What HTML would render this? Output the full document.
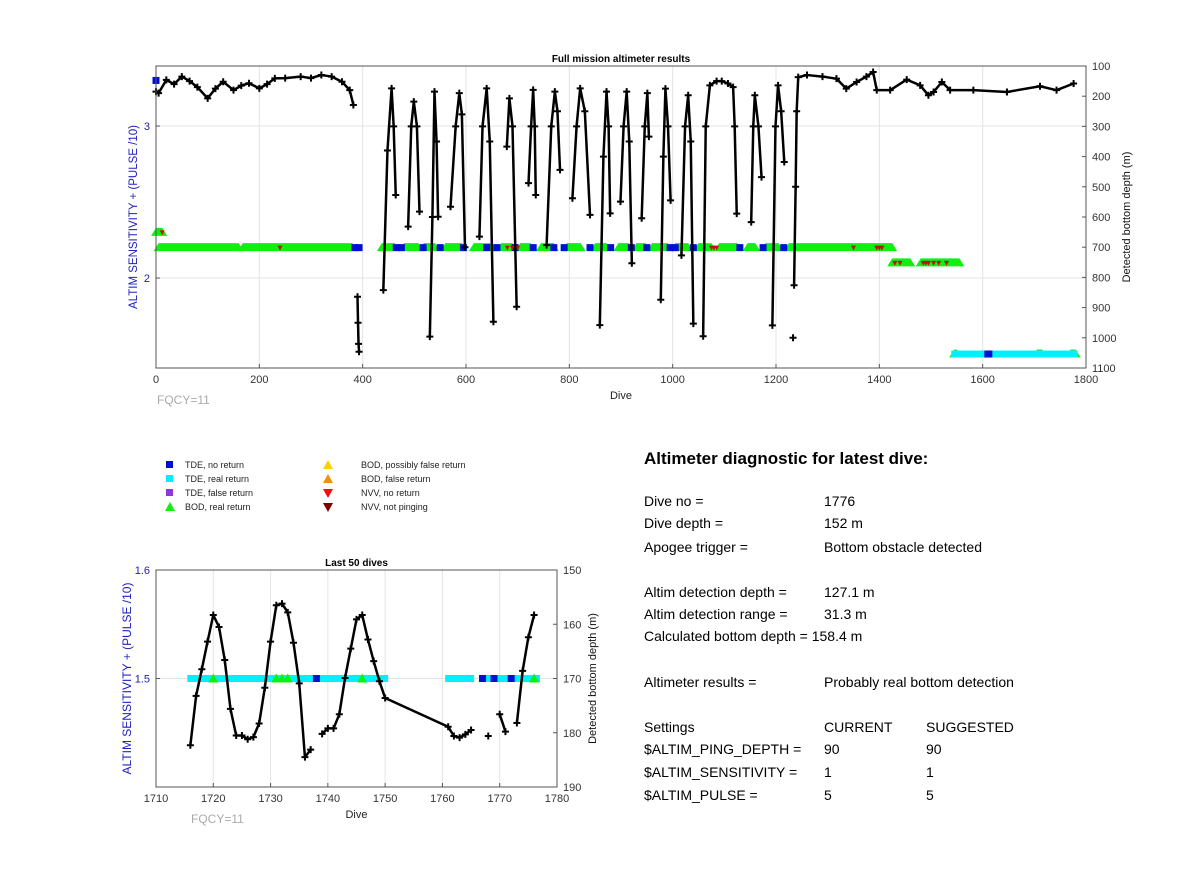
<!DOCTYPE html>
<html><head><meta charset="utf-8"><style>
body{margin:0;background:#fff;}
svg{display:block;font-family:"Liberation Sans",Arial,sans-serif;}
</style></head><body>
<svg id="fig" width="1200" height="885" viewBox="0 0 1200 885" xmlns="http://www.w3.org/2000/svg">
<rect width="1200" height="885" fill="#fff"/>
<g id="top"></g>
<g id="bot"></g>
<g font-size="9" fill="#222">
 <rect x="166" y="461" width="7" height="7" fill="#0010d0"/>
 <text x="185" y="468">TDE, no return</text>
 <rect x="166" y="475" width="7" height="7" fill="#00f0ff"/>
 <text x="185" y="482">TDE, real return</text>
 <rect x="166" y="489" width="7" height="7" fill="#8a3ad8"/>
 <text x="185" y="496">TDE, false return</text>
 <polygon points="165,511 175,511 170,502" fill="#10f010"/>
 <text x="185" y="510">BOD, real return</text>
 <polygon points="323,469 333,469 328,460" fill="#ffd000"/>
 <text x="361" y="468">BOD, possibly false return</text>
 <polygon points="323,483 333,483 328,474" fill="#f09010"/>
 <text x="361" y="482">BOD, false return</text>
 <polygon points="323,489 333,489 328,498" fill="#f01010"/>
 <text x="361" y="496">NVV, no return</text>
 <polygon points="323,503 333,503 328,512" fill="#800000"/>
 <text x="361" y="510">NVV, not pinging</text>
</g>
<g font-size="14" fill="#000">
 <text x="644" y="464" font-size="17" font-weight="bold">Altimeter diagnostic for latest dive:</text>
 <text x="644" y="506">Dive no =</text><text x="824" y="506">1776</text>
 <text x="644" y="528">Dive depth =</text><text x="824" y="528">152 m</text>
 <text x="644" y="552">Apogee trigger =</text><text x="824" y="552">Bottom obstacle detected</text>
 <text x="644" y="597">Altim detection depth =</text><text x="824" y="597">127.1 m</text>
 <text x="644" y="619">Altim detection range =</text><text x="824" y="619">31.3 m</text>
 <text x="644" y="641">Calculated bottom depth = 158.4 m</text>
 <text x="644" y="687">Altimeter results =</text><text x="824" y="687">Probably real bottom detection</text>
 <text x="644" y="732">Settings</text><text x="824" y="732">CURRENT</text><text x="926" y="732">SUGGESTED</text>
 <text x="644" y="754">$ALTIM_PING_DEPTH =</text><text x="824" y="754">90</text><text x="926" y="754">90</text>
 <text x="644" y="777">$ALTIM_SENSITIVITY =</text><text x="824" y="777">1</text><text x="926" y="777">1</text>
 <text x="644" y="800">$ALTIM_PULSE =</text><text x="824" y="800">5</text><text x="926" y="800">5</text>
</g>
</svg>
<script>
// ===== Top chart data =====
const topXTicks=[0,200,400,600,800,1000,1200,1400,1600,1800];
const topLeftTicks=[2,3];
const topRightTicks=[100,200,300,400,500,600,700,800,900,1000,1100];
const topDives=[0,5,20,35,50,65,80,100,115,130,150,165,180,200,215,230,250,280,300,320,340,360,375,382,null,390,391,392,393,null,
440,448,456,460,464,null,488,494,499,505,510,null,530,535,539,543,546,null,570,580,587,592,598,null,626,632,640,646,653,null,
679,684,690,698,null,721,726,730,733,735,null,756,765,772,777,782,null,806,814,821,830,840,null,859,866,872,876,879,null,899,905,911,916,921,null,940,946,951,954,null,
977,982,986,991,996,null,1017,1024,1030,1035,1040,null,1059,1064,1072,1085,1095,1107,1117,1120,1124,null,1152,1156,1159,1166,1172,null,1193,1199,1204,1210,1216,null,1233,null,
1235,1238,1240,1243,1260,1290,1317,1336,1356,1375,1388,1395,1421,1453,1479,1495,1505,1521,1537,1582,1647,1711,1743,1776];
const topDepths=[185,190,146,160,135,150,170,207,175,152,180,165,157,174,160,141,140,135,140,130,135,152,180,229,null,864,950,1020,1046,null,
842,380,174,300,527,null,632,300,218,300,582,null,996,600,185,350,599,null,566,300,190,260,700,null,665,300,174,350,947,null,
367,207,300,897,null,488,300,179,300,527,null,693,300,185,250,444,null,538,300,174,250,593,null,958,400,185,300,588,null,549,300,185,350,753,null,604,300,190,334,null,
874,400,175,300,545,null,727,300,197,350,953,null,995,300,164,150,150,158,170,300,589,null,617,300,197,300,468,null,959,300,164,250,418,null,1000,null,
826,500,250,137,130,135,142,175,153,135,120,180,180,145,164,197,186,153,180,180,186,167,180,158];
const greenSegs=[[0,12,2.3],[5,160,2.2],[168,380,2.2],[437,462,2.2],[480,508,2.2],[518,540,2.2],[560,592,2.2],[615,652,2.2],[668,690,2.2],[705,725,2.2],[745,770,2.2],[795,822,2.2],[850,872,2.2],[895,915,2.2],[930,948,2.2],[960,990,2.2],[1005,1030,2.2],[1050,1075,2.2],[1090,1125,2.2],[1145,1160,2.2],[1180,1205,2.2],[1225,1425,2.2],[1425,1460,2.1],[1480,1555,2.1],[1545,1550,1.5],[1705,1715,1.5],[1770,1780,1.5]];
const blueDives=[0,385,393,465,475,517,550,595,640,660,695,730,770,790,840,880,920,950,995,1005,1040,1130,1175,1215,1610,1612];
const blueLevels=[3.3,2.2,2.2,2.2,2.2,2.2,2.2,2.2,2.2,2.2,2.2,2.2,2.2,2.2,2.2,2.2,2.2,2.2,2.2,2.2,2.2,2.2,2.2,2.2,1.5,1.5];
const cyanSegs=[[1545,1778,1.5]];
const redDives=[12,240,680,690,700,1075,1080,1085,1350,1395,1400,1405,1430,1440,1485,1490,1495,1505,1515,1530];
const redLevels=[2.3,2.2,2.2,2.2,2.2,2.2,2.2,2.2,2.2,2.2,2.2,2.2,2.1,2.1,2.1,2.1,2.1,2.1,2.1,2.1];

// ===== Bottom chart data =====
const botXTicks=[1710,1720,1730,1740,1750,1760,1770,1780];
const botLeftTicks=[1.5,1.6];
const botRightTicks=[150,160,170,180,190];
const botDives=[1716,1717,1718,1719,1720,1721,1722,1723,1724,1725,1726,1727,1728,1729,1730,1731,1732,1733,1734,1735,1736,1737,null,1739,1740,1741,1742,1743,1744,1745,1746,1747,1748,1749,1750,1761,1762,1763,1764,1765,null,1768,null,1770,1771,null,1773,1774,1775,1776];
const botDepths=[182.3,173.2,168.3,163.2,158.3,160.5,166.6,175.6,180.5,180.5,181.2,180.8,178.3,171.7,163.2,156.5,156.2,157.8,163.4,170.9,184.5,183.1,null,180.2,179.2,179.2,176.6,169.9,164.5,159.1,158.3,162.8,166.8,170.5,173.6,178.9,180.6,180.9,180.3,179.5,null,180.6,null,176.6,179.8,null,178.2,168.6,162.4,158.3];
const botCyanSegs=[[1716,1750,1.5],[1761,1765,1.5],[1767,1776.5,1.5]];
const botBlueDives=[1738,1767,1769,1772];
const botGreenDives=[1720,1731,1732,1733,1746,1776];

const NS="http://www.w3.org/2000/svg";
function mk(parent,tag,attrs,txt){const e=document.createElementNS(NS,tag);for(const k in attrs)e.setAttribute(k,attrs[k]);if(txt!==undefined)e.textContent=txt;parent.appendChild(e);return e;}

function drawChart(g,cfg){
 const {x0,x1,y0,y1,xmin,xmax,lmin,lmax,rmin,rmax}=cfg;
 const X=d=>x0+(d-xmin)/(xmax-xmin)*(x1-x0);
 const YL=v=>y1-(v-lmin)/(lmax-lmin)*(y1-y0);
 const YR=v=>y0+(v-rmin)/(rmax-rmin)*(y1-y0);
 const bg=mk(g,'rect',{x:x0,y:y0,width:x1-x0,height:y1-y0,fill:'#fff'});
 
 
 const grid=mk(g,'g',{stroke:'#e4e4e4','stroke-width':1});
 
 
 cfg.xt.forEach(t=>{if(t>xmin&&t<xmax)mk(grid,'line',{x1:X(t),x2:X(t),y1:y0,y2:y1});});
 cfg.lt.forEach(t=>{if(t>lmin&&t<lmax)mk(grid,'line',{x1:x0,x2:x1,y1:YL(t),y2:YL(t)});});
 const mg=mk(g,'g',{});
 
 
 const hw=cfg.tri;
 cfg.green.forEach(s=>{const y=YL(s[2]);const p=mk(mg,'polygon',{points:`${X(s[0])-hw},${y+hw*0.7} ${X(s[1])+hw},${y+hw*0.7} ${X(s[1])},${y-hw*0.9} ${X(s[0])},${y-hw*0.9}`,fill:'#10f010'});
  
  });
 cfg.cyan.forEach(s=>{const y=YL(s[2]);const r=mk(mg,'rect',{x:X(s[0])-3,y:y-3.5,width:X(s[1])-X(s[0])+6,height:7,fill:'#00f0ff'});
  
  });
 cfg.greenPts.forEach(d=>{const y=YL(1.5);const p=mk(mg,'polygon',{points:`${X(d)-5},${y+4} ${X(d)+5},${y+4} ${X(d)},${y-5}`,fill:'#10f010'});
  
  });
 cfg.blue.forEach((d,i)=>{const y=YL(cfg.blueL[i]);const r=mk(mg,'rect',{x:X(d)-3.5,y:y-3.5,width:7,height:7,fill:'#0010d0'});
  
  });
 cfg.red.forEach((d,i)=>{const y=YL(cfg.redL[i]);const p=mk(mg,'polygon',{points:`${X(d)-2.5},${y-2} ${X(d)+2.5},${y-2} ${X(d)},${y+3}`,fill:'#c01010'});
  
  });
 let segs=[],cur=[];
 cfg.dives.forEach((d,i)=>{if(d===null){if(cur.length)segs.push(cur);cur=[];}else cur.push([X(d),YR(cfg.depths[i])]);});
 if(cur.length)segs.push(cur);
 const lg=mk(g,'g',{});
 
 
 segs.forEach(s=>{const pl=mk(lg,'polyline',{points:s.map(p=>p.join(',')).join(' '),fill:'none',stroke:'#000','stroke-width':cfg.lw,'stroke-linejoin':'round'});
  
  
  s.forEach(p=>{const m=mk(lg,'path',{d:`M${p[0]-3.5},${p[1]}h7M${p[0]},${p[1]-3.5}v7`,stroke:'#000','stroke-width':2});
   
   });});
 const box=mk(g,'rect',{x:x0,y:y0,width:x1-x0,height:y1-y0,fill:'none',stroke:'#555','stroke-width':1});
 
 
 const tk=mk(g,'g',{'font-size':11,fill:'#333'});
 
 
 cfg.xt.forEach(t=>{mk(g,'line',{x1:X(t),x2:X(t),y1:y1,y2:y1-4,stroke:'#555'});const e=mk(tk,'text',{x:X(t),y:y1+15,'text-anchor':'middle'},t);
  
  });
 cfg.lt.forEach(t=>{mk(g,'line',{x1:x0,x2:x0+4,y1:YL(t),y2:YL(t),stroke:'#555'});const e=mk(tk,'text',{x:x0-6,y:YL(t)+4,'text-anchor':'end',fill:'#2020b0'},t.toFixed(cfg.ld));
  
  });
 cfg.rt.forEach(t=>{mk(g,'line',{x1:x1,x2:x1-4,y1:YR(t),y2:YR(t),stroke:'#555'});const e=mk(tk,'text',{x:x1+6,y:YR(t)+4},t);
  
  });
 const ti=mk(g,'text',{x:(x0+x1)/2,y:y0-4,'text-anchor':'middle','font-size':10,'font-weight':'bold'},cfg.title);
 
 
 const xl=mk(g,'text',{x:(x0+x1)/2,y:y1+31,'text-anchor':'middle','font-size':11,fill:'#222'},'Dive');
 
 
 const fq=mk(g,'text',{x:cfg.fqx,y:y1+36,'font-size':12,fill:'#aaa'},'FQCY=11');
 
 
 const cy=(y0+y1)/2;
 const ll=mk(g,'text',{x:cfg.llx,y:cy,'text-anchor':'middle','font-size':cfg.lfs,fill:'#2020c0',transform:`rotate(-90 ${cfg.llx} ${cy})`},'ALTIM SENSITIVITY + (PULSE /10)');
 
 
 const rl=mk(g,'text',{x:cfg.rlx,y:cy,'text-anchor':'middle','font-size':cfg.rfs,fill:'#111',transform:`rotate(-90 ${cfg.rlx} ${cy})`},'Detected bottom depth (m)');
 
 
}

drawChart(document.getElementById('top'),{x0:156,x1:1086,y0:66,y1:368,xmin:0,xmax:1800,lmin:1.408,lmax:3.395,rmin:100,rmax:1100,
 xt:topXTicks,lt:topLeftTicks,rt:topRightTicks,ld:0,dives:topDives,depths:topDepths,green:greenSegs,cyan:cyanSegs,greenPts:[],
 blue:blueDives,blueL:blueLevels,red:redDives,redL:redLevels,tri:5,lw:2.5,title:'Full mission altimeter results',fqx:157,llx:137,rlx:1130,lfs:11.5,rfs:11});
drawChart(document.getElementById('bot'),{x0:156,x1:557,y0:570,y1:787,xmin:1710,xmax:1780,lmin:1.4,lmax:1.6,rmin:150,rmax:190,
 xt:botXTicks,lt:botLeftTicks,rt:botRightTicks,ld:1,dives:botDives,depths:botDepths,green:[],cyan:botCyanSegs,greenPts:botGreenDives,
 blue:botBlueDives,blueL:botBlueDives.map(()=>1.5),red:[],redL:[],tri:5,lw:2.5,title:'Last 50 dives',fqx:191,llx:131,rlx:596,lfs:12,rfs:11});
</script>
</body></html>
